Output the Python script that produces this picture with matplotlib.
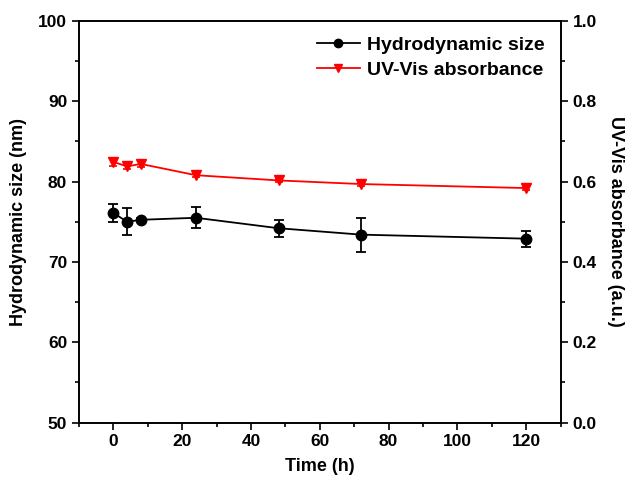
import matplotlib
matplotlib.use("Agg")
import matplotlib.pyplot as plt
from matplotlib.ticker import MultipleLocator, FormatStrFormatter
from matplotlib.lines import Line2D

plt.rcParams['font.family'] = ['Liberation Sans', 'DejaVu Sans']
plt.rcParams['font.weight'] = 'bold'

time_h = [0, 4, 8, 24, 48, 72, 120]
hydro_size = [76.1, 75.0, 75.25, 75.5, 74.2, 73.4, 72.9]
hydro_err = [1.1, 1.7, 0.2, 1.3, 1.05, 2.1, 1.0]
uv_abs = [0.649, 0.638, 0.644, 0.616, 0.603, 0.594, 0.584]
uv_err = [0.009, 0.006, 0.007, 0.005, 0.004, 0.004, 0.004]

fig = plt.figure(figsize=(6.25, 4.88), dpi=100)
ax = fig.add_axes([0.1264, 0.134, 0.7706, 0.823])
ax2 = ax.twinx()

ax.errorbar(time_h, hydro_size, yerr=hydro_err, color='black', marker='o',
            markersize=7.5, linewidth=1.3, capsize=3.5, elinewidth=1.3,
            capthick=1.3)
ax2.errorbar(time_h, uv_abs, yerr=uv_err, color='red', marker='v',
             markersize=7.5, linewidth=1.3, capsize=3, elinewidth=1.2,
             capthick=1.2)

ax.set_xlim(-10, 130)
ax.set_ylim(50, 100)
ax2.set_ylim(0.0, 1.0)

ax.xaxis.set_major_locator(MultipleLocator(20))
ax.xaxis.set_minor_locator(MultipleLocator(10))
ax.yaxis.set_major_locator(MultipleLocator(10))
ax.yaxis.set_minor_locator(MultipleLocator(5))
ax2.yaxis.set_major_locator(MultipleLocator(0.2))
ax2.yaxis.set_minor_locator(MultipleLocator(0.1))
ax2.yaxis.set_major_formatter(FormatStrFormatter('%.1f'))

for a in (ax, ax2):
    a.tick_params(which='major', direction='out', length=5, width=1.2, labelsize=12.5)
    a.tick_params(which='minor', direction='out', length=3, width=1.2)
    for s in a.spines.values():
        s.set_linewidth(1.2)

ax.set_xlabel('Time (h)', fontsize=13, fontweight='bold', labelpad=6)
ax.set_ylabel('Hydrodynamic size (nm)', fontsize=13, fontweight='bold', labelpad=8)
ax2.set_ylabel('UV-Vis absorbance (a.u.)', fontsize=13, fontweight='bold',
               rotation=270, labelpad=20)

handles = [
    Line2D([], [], color='black', marker='o', markersize=6, linewidth=1.3,
           label='Hydrodynamic size'),
    Line2D([], [], color='red', marker='v', markersize=6, linewidth=1.3,
           label='UV-Vis absorbance'),
]
leg = ax2.legend(handles=handles, loc='upper right', frameon=False,
                 fontsize=14, handlelength=2.2, handletextpad=0.4,
                 borderaxespad=0.4, labelspacing=0.35)
for t in leg.get_texts():
    t.set_fontweight('bold')

fig.savefig('out.png', dpi=100)
